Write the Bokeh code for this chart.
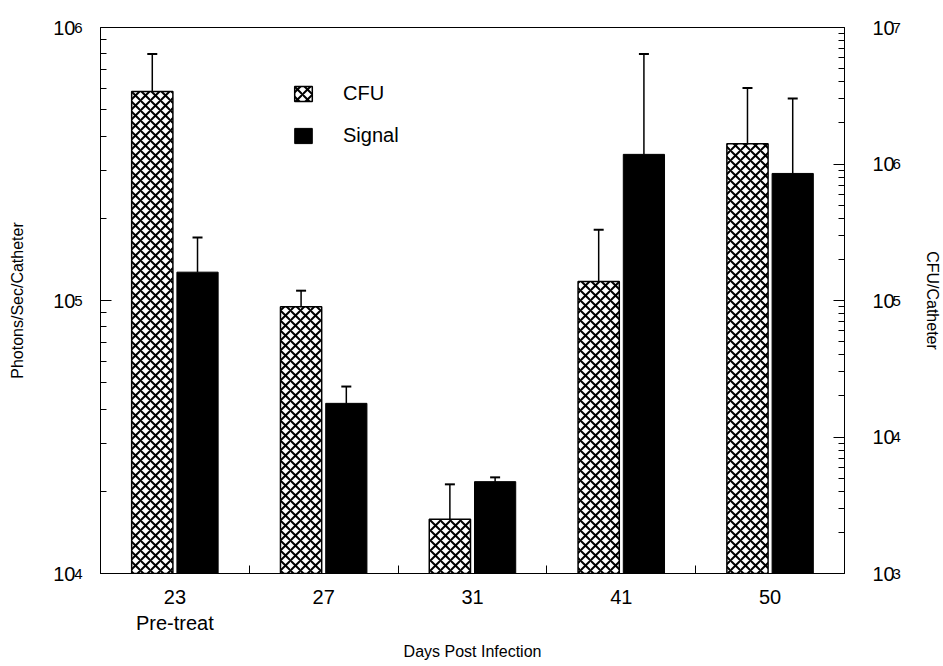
import numpy as np
from bokeh.plotting import figure
from bokeh.models import Range1d, LogScale, LogAxis, FixedTicker, Legend, LegendItem
from bokeh.embed import file_html
from bokeh.resources import INLINE

# ---- data ----
days = ["23", "27", "31", "41", "50"]
day_notes = ["Pre-treat", "", "", "", ""]
cfu = [3.4e6, 9.0e4, 2.5e3, 1.38e5, 1.41e6]          # CFU/Catheter (right axis)
cfu_upper = [6.4e6, 1.18e5, 4.5e3, 3.3e5, 3.6e6]     # top of error bar
signal = [1.27e5, 4.2e4, 2.17e4, 3.43e5, 2.92e5]     # Photons/Sec/Catheter (left axis)
signal_upper = [1.7e5, 4.84e4, 2.25e4, 8.0e5, 5.5e5]

left_ticks = [1e4, 1e5, 1e6]
left_exps = ["4", "5", "6"]
right_ticks = [1e3, 1e4, 1e5, 1e6, 1e7]
right_exps = ["3", "4", "5", "6", "7"]

FONT = "Liberation Sans"
FW, FH = 744, 546

idx = np.arange(len(days))
centers = idx + 0.5
x_cfu = centers - 0.152
x_sig = centers + 0.152
bar_w = 0.277

p = figure(
    frame_width=FW, frame_height=FH,
    min_border_left=100, min_border_right=91, min_border_top=27, min_border_bottom=80,
    x_range=Range1d(0, len(days)), y_range=Range1d(left_ticks[0], left_ticks[-1]),
    y_axis_type="log", output_backend="svg", toolbar_location=None,
)
p.extra_y_ranges = {"cfu": Range1d(right_ticks[0], right_ticks[-1])}
p.extra_y_scales = {"cfu": LogScale()}

p.xgrid.visible = False
p.ygrid.visible = False
p.outline_line_color = "black"
p.background_fill_color = "white"
p.border_fill_color = "white"

# bars
cfu_bars = p.vbar(x=x_cfu, top=cfu, bottom=right_ticks[0], width=bar_w, y_range_name="cfu",
                  fill_color="white", line_color="black", line_width=1.5,
                  hatch_pattern="x", hatch_color="black", hatch_scale=10, hatch_weight=2)
sig_bars = p.vbar(x=x_sig, top=signal, bottom=left_ticks[0], width=bar_w,
                  fill_color="black", line_color="black", line_width=1)

# error bars (upper only)
p.segment(x0=x_cfu, y0=cfu, x1=x_cfu, y1=cfu_upper, y_range_name="cfu", line_color="black", line_width=1.5)
p.scatter(x=x_cfu, y=cfu_upper, y_range_name="cfu", marker="dash", size=10, line_color="black", line_width=2)
p.segment(x0=x_sig, y0=signal, x1=x_sig, y1=signal_upper, line_color="black", line_width=1.5)
p.scatter(x=x_sig, y=signal_upper, marker="dash", size=10, line_color="black", line_width=2)

# x axis
xa = p.xaxis[0]
xa.ticker = FixedTicker(ticks=list(centers), minor_ticks=list(idx[1:]))
xa.major_label_overrides = {float(c): (d + "\n" + n if n else d) for c, d, n in zip(centers, days, day_notes)}
xa.major_tick_in = 0
xa.major_tick_out = 0
xa.minor_tick_in = 8
xa.minor_tick_out = 0
xa.major_label_standoff = 12
xa.axis_label = "Days Post Infection"
xa.axis_label_standoff = 6

# left side: inner axis carries ticks and exponents, outer axis carries the "10" bases
left_minor = [m * t for t in left_ticks[:-1] for m in range(2, 10)]
ya_exp = p.yaxis[0]
ya_exp.ticker = FixedTicker(ticks=left_ticks, minor_ticks=left_minor)
ya_exp.major_label_overrides = {t: e for t, e in zip(left_ticks, left_exps)}
ya_exp.major_label_standoff = 18
ya_exp.major_label_text_font_size = "15px"
ya_exp.major_label_text_baseline = "alphabetic"

ya_base = LogAxis(ticker=FixedTicker(ticks=left_ticks, minor_ticks=[]), axis_label="Photons/Sec/Catheter")
ya_base.major_label_overrides = {t: "10" for t in left_ticks}
ya_base.major_label_standoff = -4
ya_base.major_label_text_font_size = "20px"
ya_base.axis_label_standoff = 24
p.add_layout(ya_base, "left")

# right side: inner axis carries ticks and "10" bases, outer axis carries the exponents
right_minor = [m * t for t in right_ticks[:-1] for m in range(2, 10)]
ra_base = LogAxis(y_range_name="cfu", ticker=FixedTicker(ticks=right_ticks, minor_ticks=right_minor))
ra_base.major_label_overrides = {t: "10" for t in right_ticks}
ra_base.major_label_standoff = 28
ra_base.major_label_text_font_size = "20px"
p.add_layout(ra_base, "right")

ra_exp = LogAxis(y_range_name="cfu", ticker=FixedTicker(ticks=right_ticks, minor_ticks=[]),
                 axis_label="CFU/Catheter")
ra_exp.major_label_overrides = {t: e for t, e in zip(right_ticks, right_exps)}
ra_exp.major_label_standoff = -5
ra_exp.major_label_text_font_size = "15px"
ra_exp.major_label_text_baseline = "alphabetic"
ra_exp.axis_label_standoff = 20
p.add_layout(ra_exp, "right")

for ax in [ya_exp, ra_base]:
    ax.axis_line_color = "black"
    ax.major_tick_in = 11
    ax.major_tick_out = 0
    ax.minor_tick_in = 6
    ax.minor_tick_out = 0
    ax.major_tick_line_color = "black"
    ax.minor_tick_line_color = "black"

for ax in [ya_base, ra_exp]:
    ax.axis_line_color = None
    ax.major_tick_line_color = None
    ax.minor_tick_line_color = None
    ax.major_tick_in = 0
    ax.major_tick_out = 0
    ax.minor_tick_in = 0
    ax.minor_tick_out = 0

xa.axis_line_color = "black"
xa.minor_tick_line_color = "black"
xa.major_label_text_font_size = "20px"

for ax in [xa, ya_exp, ya_base, ra_base, ra_exp]:
    ax.major_label_text_font = FONT
    ax.major_label_text_color = "black"
    ax.axis_label_text_font = FONT
    ax.axis_label_text_font_size = "16px"
    ax.axis_label_text_font_style = "normal"
    ax.axis_label_text_color = "black"

legend = Legend(
    items=[LegendItem(label="CFU", renderers=[cfu_bars]), LegendItem(label="Signal", renderers=[sig_bars])],
    location=(192, 426), border_line_color=None, background_fill_alpha=0,
    glyph_width=22, glyph_height=19, label_standoff=29, spacing=19, padding=5,
    label_text_font=FONT, label_text_font_size="20px", label_text_color="black",
)
p.add_layout(legend)

open("out.html", "w").write(file_html(p, INLINE))
